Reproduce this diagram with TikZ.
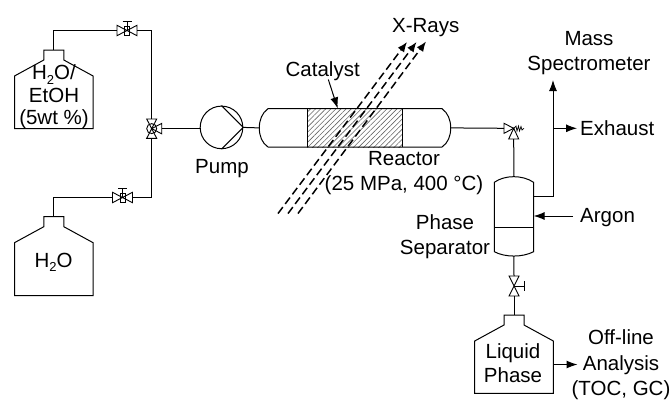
\documentclass[tikz,border=0pt]{standalone}
\usepackage{fontspec}
\setmainfont{Liberation Sans}
\usetikzlibrary{arrows.meta,patterns.meta}
\newcommand{\subtwo}{\raisebox{-.22em}{\fontsize{13}{13}\selectfont 2}}
\tikzset{
  x=1pt,y=-1pt,
  pipe/.style={draw=black,line width=1pt},
  flow/.style={pipe,-{Latex[length=11pt,width=8pt]}},
  xray/.style={draw=black,line width=1.5pt,dash pattern=on 8pt off 4pt,-{Latex[length=10pt,width=8pt]}},
  lab/.style={inner sep=0pt,font=\fontsize{20.5}{24.5}\selectfont,align=center,text=black},
  hatchfill/.style={pattern={Lines[angle=45,distance=3.6pt,line width=.6pt]},pattern color=black!60},
}
\newcommand{\bottle}[4]{%
  \draw[pipe] (#2-39.3,#4) -- (#2-39.3,#3+26) -- (#2-10,#3+10) -- (#2-10,#3) -- (#2+10,#3) -- (#2+10,#3+10) -- (#2+39.3,#3+26) -- (#2+39.3,#4) -- cycle;
  \coordinate (#1-top) at (#2,#3);
  \coordinate (#1-east) at (#2+39.3,#4-29.3);
}
\newcommand{\hvalve}[3]{%
  \draw[pipe,line width=.9pt] (#2-10,#3-5.2) -- (#2+10,#3+5.2) -- (#2+10,#3-5.2) -- (#2-10,#3+5.2) -- cycle;
  \draw[pipe,line width=.9pt] (#2,#3) -- (#2,#3-9.5) (#2-4.5,#3-9.5) -- (#2+4.5,#3-9.5);
  \draw[pipe,line width=.7pt] (#2-2.5,#3-4.5) rectangle (#2+2.5,#3+5);
  \coordinate (#1-w) at (#2-10,#3);
  \coordinate (#1-e) at (#2+10,#3);
}
\begin{document}
\begin{tikzpicture}
\useasboundingbox (0,0) rectangle (672,399);
\bottle{feedA}{53.8}{50}{128.5}
\bottle{feedB}{53.8}{216.7}{295.5}
\bottle{liquid}{514}{315}{393.3}
\hvalve{valA}{127}{30.5}
\hvalve{valB}{122.5}{197.5}
\draw[pipe,line width=.9pt] (146.7,119) -- (156.7,119) -- (146.7,138.3) -- (156.7,138.3) -- cycle;
\draw[pipe,line width=.9pt] (151.7,128.6) -- (161.7,123.4) -- (161.7,133.8) -- cycle;
\draw[pipe,line width=.9pt,fill=none] (151.7,128.6) circle[radius=5];
\coordinate (tw-n) at (151.7,119);
\coordinate (tw-s) at (151.7,138.3);
\coordinate (tw-e) at (161.7,128.2);
\node[circle,pipe,minimum size=42.6pt,inner sep=0pt] (pump) at (221.5,127.4) {};
\draw[pipe] (pump.north) -- (pump.east) -- (pump.south);
\node[draw=none,inner sep=0pt,minimum width=95.4pt,minimum height=38.3pt] (cat) at (355,127.9) {};
\fill[hatchfill] (cat.north west) rectangle (cat.south east);
\draw[pipe] (cat.north west) -- (cat.south west) (cat.north east) -- (cat.south east);
\draw[pipe] (268,108.7) .. controls (262,113) and (259.3,120) .. (259.3,127.9) .. controls (259.3,136) and (262,143) .. (268,147) -- (442,147) .. controls (448,143) and (450.7,136) .. (450.7,127.9) .. controls (450.7,120) and (448,113) .. (442,108.7) -- cycle;
\coordinate (reac-w) at (259.3,127.9);
\coordinate (reac-e) at (450.7,127.9);
\coordinate (reac-t) at (337.7,108.4);
\draw[pipe,line width=.9pt] (504,123.3) -- (513.7,128.3) -- (504,133.3) -- cycle;
\draw[pipe,line width=.9pt] (513.7,128.3) -- (508.7,139) -- (518.7,139) -- cycle;
\draw[line width=.7pt] (513.7,128.3) -- (516,126) -- (517,131) -- (518.5,126) -- (519.5,131) -- (521,126.5) -- (522,130) -- (524,128.3);
\coordinate (rv-w) at (504,128.3);
\coordinate (rv-s) at (513.7,139);
\draw[pipe] (494.3,182.3) .. controls (505,174.8) and (522.5,174.8) .. (533.6,182.3) -- (533.6,251.7) .. controls (522.5,257.5) and (505,257.5) .. (494.3,251.7) -- cycle;
\draw[pipe] (494.3,227.3) -- (533.6,227.3);
\coordinate (sep-n) at (513.9,176.7);
\coordinate (sep-s) at (513.9,256);
\coordinate (sep-e1) at (533.6,196.3);
\coordinate (sep-e2) at (533.6,216);
\draw[pipe,line width=.9pt] (509,276) -- (519,276) -- (509,296) -- (519,296) -- cycle;
\draw[pipe,line width=.9pt] (514,286) -- (524,286) (524,281) -- (524,291);
\coordinate (dv-n) at (514,276);
\coordinate (dv-s) at (514,296);
\coordinate (elbowA) at (53.8,30.5);
\coordinate (cornerA) at (151.7,30.5);
\coordinate (elbowB) at (53.8,197.5);
\coordinate (cornerB) at (151.7,197.5);
\coordinate (branch) at (553,196.3);
\coordinate (msEnd) at (553,80);
\coordinate (exFrom) at (553,128.3);
\coordinate (exEnd) at (577,128.3);
\coordinate (arStart) at (573,216);
\coordinate (offEnd) at (577.5,364.5);
\coordinate (catFrom) at (328.3,79.5);
\draw[pipe] (feedA-top) -- (elbowA) -- (valA-w);
\draw[pipe] (valA-e) -- (cornerA) -- (tw-n);
\draw[pipe] (feedB-top) -- (elbowB) -- (valB-w);
\draw[pipe] (valB-e) -- (cornerB) -- (tw-s);
\draw[pipe] (tw-e) -- (tw-e -| pump.west);
\draw[pipe] (pump.east) -- (reac-w);
\draw[pipe] (reac-e) -- (rv-w);
\draw[pipe] (rv-s) -- (sep-n);
\draw[pipe] (sep-s) -- (dv-n);
\draw[pipe] (dv-s) -- (liquid-top);
\draw[flow] (sep-e1) -- (branch) -- (msEnd);
\draw[flow] (exFrom) -- (exEnd);
\draw[flow] (arStart) -- (sep-e2);
\draw[flow] (liquid-east |- offEnd) -- (offEnd);
\draw[flow] (catFrom) -- (reac-t);
\coordinate (xa1) at (278,213.5); \coordinate (xa2) at (407,42);
\coordinate (xb1) at (288,213.5); \coordinate (xb2) at (416.5,42);
\coordinate (xc1) at (298,213.5); \coordinate (xc2) at (426,41.5);
\draw[xray] (xa1) -- (xa2);
\draw[xray] (xb1) -- (xb2);
\draw[xray] (xc1) -- (xc2);
\node[lab,anchor=base] (t1) at (425.7,32) {X-Rays};
\node[lab,anchor=base] (t2) at (322.7,76) {Catalyst};
\node[lab] (t3) at (404,173) {Reactor\\(25 MPa, 400 °C)};
\node[lab,anchor=base] (t4) at (222,173) {Pump};
\node[lab] (t5) at (54,97) {H\subtwo O/\\[-2pt]EtOH\\[-2pt](5wt \%)};
\node[lab,anchor=base] (t6) at (53.5,267) {H\subtwo O};
\node[lab] (t7) at (589,53) {Mass\\Spectrometer};
\node[lab,anchor=base west] (t8) at (580,135.5) {Exhaust};
\node[lab,anchor=base west] (t9) at (580,222.7) {Argon};
\node[lab] (t10) at (445,236.5) {Phase\\Separator};
\node[lab] (t11) at (513,363) {Liquid\\Phase};
\node[lab] (t12) at (621,365) {Off-line\\[1pt]Analysis\\[1pt](TOC, GC)};
\end{tikzpicture}
\end{document}
